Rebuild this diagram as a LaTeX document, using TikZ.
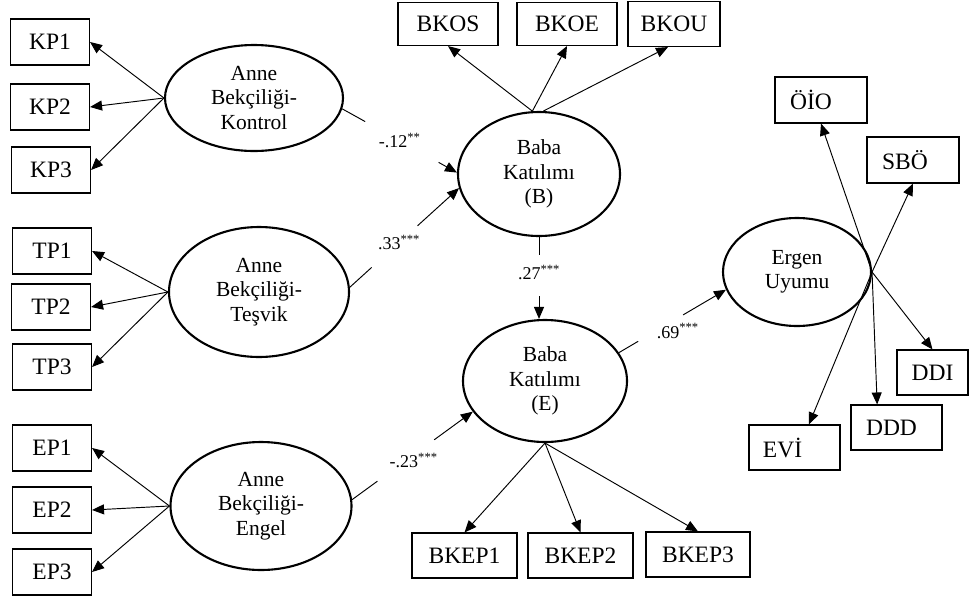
\documentclass[tikz,border=0pt]{standalone}
\usepackage{fontspec}
\setmainfont{Liberation Serif}
\usetikzlibrary{shapes.geometric,arrows.meta}
\begin{document}
\begin{tikzpicture}[x=1pt,y=-1pt,
 obs/.style={draw,line width=1.1pt,inner sep=0pt,font=\fontsize{23.5}{27}\selectfont},
 lobs/.style={obs,minimum width=79pt,minimum height=46pt},
 lat/.style={ellipse,draw,line width=2.1pt,inner sep=0pt,align=center,font=\fontsize{21.5}{24.5}\selectfont},
 arr/.style={-{Triangle[length=12pt,width=10pt]},line width=0.95pt},
 ln/.style={line width=0.95pt},
 coef/.style={font=\fontsize{18}{20}\selectfont,inner sep=1pt}]
\useasboundingbox (0,0) rectangle (969,600);
% left indicators
\node[lobs] (KP1) at (50,42) {KP1};
\node[lobs] (KP2) at (50,107) {KP2};
\node[lobs] (KP3) at (51,170) {KP3};
\node[lobs] (TP1) at (52,251) {TP1};
\node[lobs] (TP2) at (51,307) {TP2};
\node[lobs] (TP3) at (52,367) {TP3};
\node[lobs] (EP1) at (52,448) {EP1};
\node[lobs] (EP2) at (52,510) {EP2};
\node[lobs] (EP3) at (52,572) {EP3};
% top indicators
\node[obs,minimum width=100pt,minimum height=43pt] (BKOS) at (448,24) {BKOS};
\node[obs,minimum width=100pt,minimum height=43pt] (BKOE) at (567,24) {BKOE};
\node[obs,minimum width=92pt,minimum height=45pt] (BKOU) at (674,24) {BKOU};
% bottom indicators
\node[obs,minimum width=105pt,minimum height=45pt] (BKEP1) at (464.5,555.5) {BKEP1};
\node[obs,minimum width=105pt,minimum height=45pt] (BKEP2) at (580.5,555.5) {BKEP2};
\node[obs,minimum width=104pt,minimum height=45pt] (BKEP3) at (698,554.5) {BKEP3};
% right indicators
\node[obs,minimum width=92pt,minimum height=46pt] (OIO) at (821,100) {ÖİO\hspace*{20pt}};
\node[obs,minimum width=92pt,minimum height=46pt] (SBO) at (913,160) {SBÖ\hspace*{16pt}};
\node[obs,minimum width=71pt,minimum height=45pt] (DDI) at (932.5,372.5) {DDI};
\node[obs,minimum width=91pt,minimum height=45pt] (DDD) at (896.5,427.5) {DDD\hspace*{10pt}};
\node[obs,minimum width=91pt,minimum height=45pt] (EVI) at (794.5,447.5) {EVİ\hspace*{24pt}};
% latent variables
\node[lat,minimum width=178pt,minimum height=106pt] (K) at (254,98) {Anne\\Bekçiliği-\\Kontrol};
\node[lat,minimum width=180pt,minimum height=130pt] (T) at (259,292) {Anne\\Bekçiliği-\\Teşvik};
\node[lat,minimum width=181pt,minimum height=128pt] (E) at (261,506) {Anne\\Bekçiliği-\\Engel};
\node[lat,minimum width=162pt,minimum height=124pt] (BB) at (539,174) {Baba\\Katılımı\\(B)};
\node[lat,minimum width=164pt,minimum height=122pt] (BE) at (545,381) {Baba\\Katılımı\\(E)};
\node[lat,minimum width=148pt,minimum height=108pt] (Er) at (797,272) {Ergen\\Uyumu};
% measurement arrows
\foreach \b in {KP1,KP2,KP3} \draw[arr] (K.west) -- (\b.east);
\foreach \b in {TP1,TP2,TP3} \draw[arr] (T.west) -- (\b.east);
\foreach \b in {EP1,EP2,EP3} \draw[arr] (E.west) -- (\b.east);
\foreach \b in {BKOS,BKOE} \draw[arr] (BB.96) -- (\b.south);
\draw[arr] (BB.86) -- ([xshift=-6pt]BKOU.south);
\foreach \b in {BKEP1,BKEP2,BKEP3} \draw[arr] (BE.south) -- (\b.north);
\draw[arr] (Er.east) -- (OIO.south);
\draw[arr] (Er.east) -- (SBO.south);
\draw[arr] (Er.east) -- (DDI.north);
\draw[arr] (Er.east) -- (DDD.130);
\draw[arr] (Er.east) -- (EVI.58);
% structural paths
\path (K.353) -- (BB.179) coordinate[pos=0.2] (a1) coordinate[pos=0.84] (a2) node[coef,pos=0.5] {-.12\textsuperscript{**}};
\draw[ln] (K.353) -- (a1); \draw[arr] (a2) -- (BB.179);
\path (T.3) -- (BB.190) coordinate[pos=0.2] (b1) coordinate[pos=0.62] (b2) node[coef,pos=0.45] {.33\textsuperscript{***}};
\draw[ln] (T.3) -- (b1); \draw[arr] (b2) -- (BB.190);
\path (BB.south) -- (BB.south |- BE.north) coordinate[pos=0.22] (c1) coordinate[pos=0.72] (c2) node[coef,pos=0.43] {.27\textsuperscript{***}};
\draw[ln] (BB.south) -- (c1); \draw[arr] (c2) -- (BB.south |- BE.north);
\path (E.4) -- (BE.203) coordinate[pos=0.21] (d1) coordinate[pos=0.68] (d2) node[coef,pos=0.51,yshift=-6pt] {-.23\textsuperscript{***}};
\draw[ln] (E.4) -- (d1); \draw[arr] (d2) -- (BE.203);
\path (BE.21) -- (Er.194) coordinate[pos=0.18] (e1) coordinate[pos=0.6] (e2) node[coef,pos=0.55,yshift=-13pt] {.69\textsuperscript{***}};
\draw[ln] (BE.21) -- (e1); \draw[arr] (e2) -- (Er.194);
\end{tikzpicture}
\end{document}
